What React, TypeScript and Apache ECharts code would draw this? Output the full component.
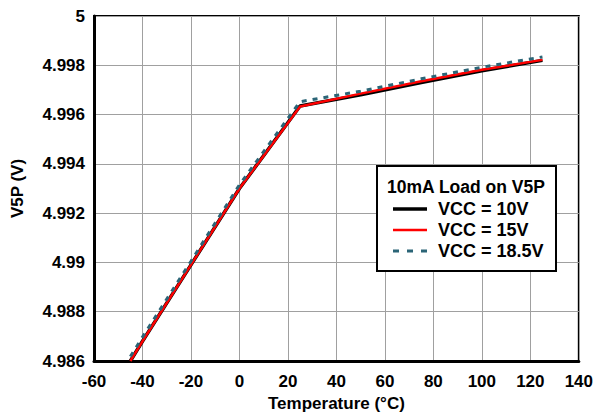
import React, { useEffect, useRef } from "react";
import * as echarts from "echarts";

const temps = [-45, -40, -20, 0, 25, 50, 75, 100, 125];
const vcc10 = [4.986, 4.9868, 4.9899, 4.993, 4.99635, 4.9968, 4.9973, 4.99778, 4.9982];
const vcc15 = [4.986, 4.9868, 4.9899, 4.993, 4.99633, 4.99685, 4.99735, 4.99782, 4.99822];
const vcc185 = [4.98618, 4.98697, 4.99005, 4.99315, 4.99652, 4.99695, 4.99745, 4.99792, 4.99834];

const seriesNames = ["VCC = 10V", "VCC = 15V", "VCC = 18.5V"];
const legendTitle = "10mA Load on V5P";
const xTitle = "Temperature (°C)";
const yTitle = "V5P (V)";

const FONT = "'Liberation Sans', Arial, sans-serif";

export default function App() {
  const ref = useRef<HTMLDivElement>(null);
  useEffect(() => {
    if (!ref.current) return;
    const chart = echarts.init(ref.current, undefined, { renderer: "svg" });
    const pairs = (vals: number[]) => temps.map((t, i) => [t, vals[i]]);
    const colors = ["#000000", "#ff0000", "#2b6577"];
    const legendItems = seriesNames.map((name, i) => [
      {
        type: "line",
        shape: { x1: 393, y1: 209 + i * 21, x2: 427, y2: 209 + i * 21 },
        style: {
          stroke: colors[i],
          lineWidth: i === 0 ? 3.5 : i === 1 ? 2.5 : 3,
          lineDash: i === 2 ? [6, 8] : null,
        },
      },
      {
        type: "text",
        x: 438,
        y: 209 + i * 21,
        style: {
          text: name,
          font: `bold 18px ${FONT}`,
          fill: "#000",
          verticalAlign: "middle",
        },
      },
    ]).flat();
    chart.setOption({
      animation: false,
      backgroundColor: "#fff",
      grid: {
        left: 94,
        right: 14,
        top: 16,
        bottom: 55,
        show: true,
        borderColor: "#000",
        borderWidth: 2,
      },
      xAxis: {
        type: "value",
        min: -60,
        max: 140,
        interval: 20,
        name: xTitle,
        nameLocation: "middle",
        nameGap: 34,
        nameTextStyle: { fontFamily: FONT, fontWeight: "bold", fontSize: 17, color: "#000" },
        axisLine: { show: true, onZero: false, lineStyle: { color: "#000", width: 3 } },
        axisTick: { show: false },
        axisLabel: { fontFamily: FONT, fontWeight: "bold", fontSize: 17, color: "#000", margin: 12 },
        splitLine: { show: true, lineStyle: { color: "#a0a0a0", width: 1 } },
      },
      yAxis: {
        type: "value",
        min: 4.986,
        max: 5,
        interval: 0.002,
        name: yTitle,
        nameLocation: "middle",
        nameGap: 68,
        nameTextStyle: { fontFamily: FONT, fontWeight: "bold", fontSize: 17, color: "#000" },
        axisLine: { show: true, onZero: false, lineStyle: { color: "#000", width: 3 } },
        axisTick: { show: false },
        axisLabel: {
          fontFamily: FONT,
          fontWeight: "bold",
          fontSize: 17,
          color: "#000",
          margin: 9,
          formatter: (v: number) => String(Number(v.toFixed(3))),
        },
        splitLine: { show: true, lineStyle: { color: "#a0a0a0", width: 1 } },
      },
      series: [
        {
          name: seriesNames[0],
          type: "line",
          data: pairs(vcc10),
          symbol: "none",
          lineStyle: { color: colors[0], width: 3.5 },
          z: 2,
        },
        {
          name: seriesNames[1],
          type: "line",
          data: pairs(vcc15),
          symbol: "none",
          lineStyle: { color: colors[1], width: 2.5 },
          z: 3,
        },
        {
          name: seriesNames[2],
          type: "line",
          data: pairs(vcc185),
          symbol: "none",
          lineStyle: { color: colors[2], width: 3, type: [5, 6] },
          z: 4,
        },
      ],
      graphic: [
        {
          type: "rect",
          shape: { x: 377, y: 166, width: 179, height: 105 },
          style: { fill: "#fff", stroke: "#000", lineWidth: 2 },
          z: 100,
        },
        {
          type: "text",
          x: 387,
          y: 187,
          style: {
            text: legendTitle,
            font: `bold 17.5px ${FONT}`,
            fill: "#000",
            verticalAlign: "middle",
          },
          z: 101,
        },
        ...legendItems.map((g: any) => ({ ...g, z: 101 })),
      ],
    });
    return () => chart.dispose();
  }, []);
  return <div ref={ref} style={{ width: 596, height: 417, position: "absolute", left: 0, top: 0 }} />;
}
